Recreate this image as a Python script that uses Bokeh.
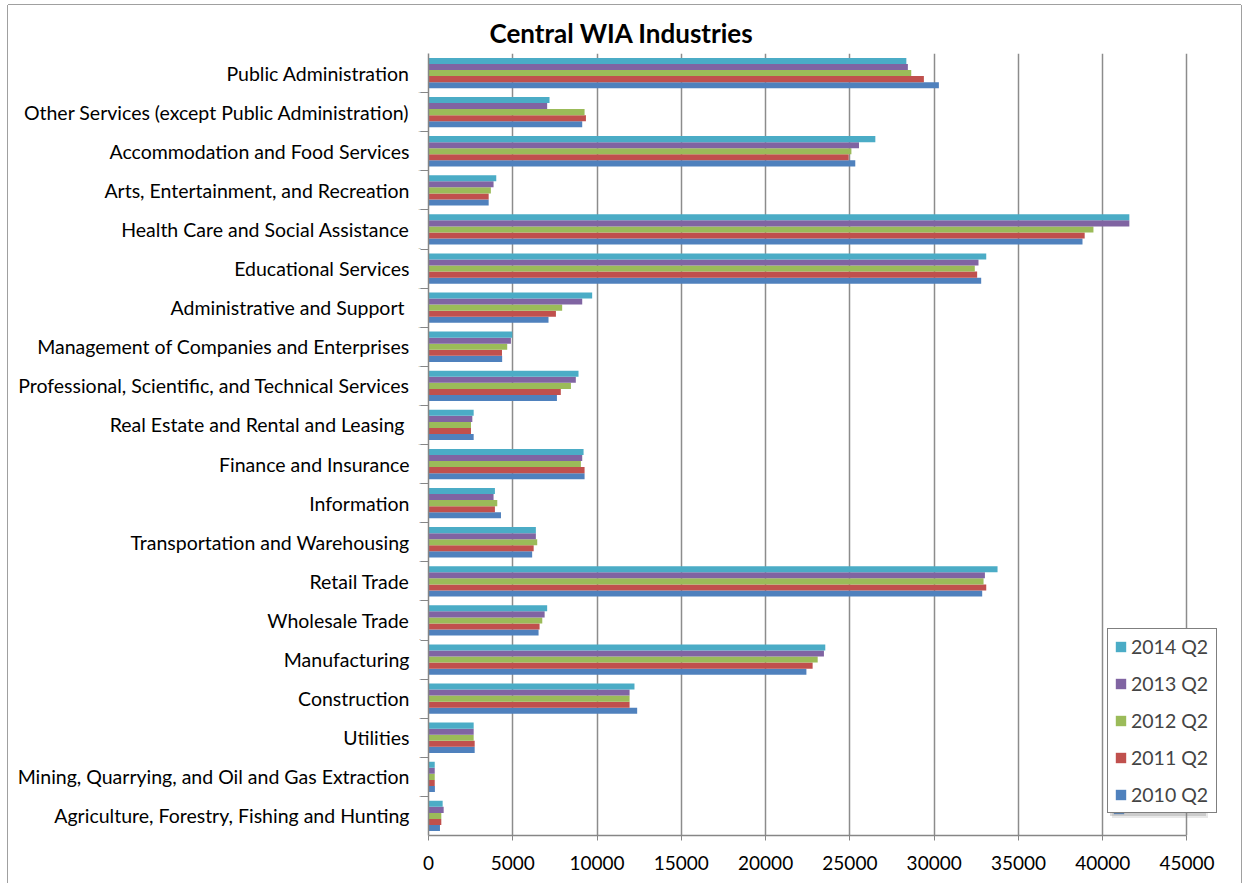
from bokeh.plotting import figure
from bokeh.models import (FactorRange, Range1d, FixedTicker, Legend, LegendItem,
                          ColumnDataSource, CategoricalAxis)
from bokeh.transform import dodge
from bokeh.embed import file_html
from bokeh.resources import INLINE

# categories listed top to bottom as in the chart
categories = [
    "Public Administration",
    "Other Services (except Public Administration)",
    "Accommodation and Food Services",
    "Arts, Entertainment, and Recreation",
    "Health Care and Social Assistance",
    "Educational Services",
    "Administrative and Support ",
    "Management of Companies and Enterprises",
    "Professional, Scientific, and Technical Services",
    "Real Estate and Rental and Leasing ",
    "Finance and Insurance",
    "Information",
    "Transportation and Warehousing",
    "Retail Trade",
    "Wholesale Trade",
    "Manufacturing",
    "Construction",
    "Utilities",
    "Mining, Quarrying, and Oil and Gas Extraction",
    "Agriculture, Forestry, Fishing and Hunting",
]

q2_2010 = [30280, 9120, 25320, 3570, 38800, 32790, 7120, 4370, 7620, 2680,
           9260, 4300, 6150, 32850, 6530, 22420, 12380, 2740, 380, 680]
q2_2011 = [29390, 9340, 24930, 3570, 38930, 32550, 7560, 4360, 7850, 2520,
           9260, 3940, 6240, 33090, 6590, 22790, 11930, 2740, 370, 760]
q2_2012 = [28640, 9260, 25090, 3700, 39450, 32410, 7930, 4670, 8450, 2520,
           9040, 4080, 6450, 32930, 6750, 23090, 11930, 2680, 370, 760]
q2_2013 = [28440, 7040, 25540, 3860, 41580, 32630, 9120, 4890, 8740, 2600,
           9120, 3860, 6370, 33010, 6890, 23460, 11930, 2680, 370, 900]
q2_2014 = [28350, 7180, 26510, 4020, 41580, 33090, 9710, 4970, 8900, 2680,
           9200, 3940, 6370, 33760, 7040, 23540, 12220, 2680, 370, 840]

series_names = ["2010 Q2", "2011 Q2", "2012 Q2", "2013 Q2", "2014 Q2"]
series_values = [q2_2010, q2_2011, q2_2012, q2_2013, q2_2014]
series_colors = ["#4F81BD", "#C0504D", "#9BBB59", "#8064A2", "#4BACC6"]
x_ticks = [0, 5000, 10000, 15000, 20000, 25000, 30000, 35000, 40000, 45000]
x_max = 45000

FONT = "Lato"
AXIS_GRAY = "#868686"

data = {"cat": categories}
for name, vals in zip(series_names, series_values):
    data[name] = vals
source = ColumnDataSource(data)

# frame extends a little past 45000 so the legend and its shadow are not clipped
p = figure(
    width=1233, height=878,
    y_range=FactorRange(factors=categories[::-1]),
    x_range=Range1d(0, 47047),
    y_axis_location=None,
    output_backend="svg", toolbar_location=None,
    min_border_left=420, min_border_right=20,
    min_border_top=48, min_border_bottom=48,
)

bar_h = 0.155
offsets = [-2 * bar_h, -bar_h, 0.0, bar_h, 2 * bar_h]
renderers = []
for name, color, off in zip(series_names, series_colors, offsets):
    r = p.hbar(y=dodge("cat", off, range=p.y_range), right=name, left=0,
               height=bar_h, source=source, fill_color=color, line_color=None)
    renderers.append(r)

# title
p.title.text = "Central WIA Industries"
p.title.text_font = FONT
p.title.text_font_style = "bold"
p.title.text_font_size = "26px"
p.title.text_color = "#000000"
p.title.align = "left"
p.title.offset = 61
p.title.standoff = 9

# x axis
p.xaxis.ticker = FixedTicker(ticks=x_ticks)
p.xaxis.bounds = (0, x_max)
p.xaxis.axis_line_color = AXIS_GRAY
p.xaxis.axis_line_width = 1.5
p.xaxis.major_tick_line_color = AXIS_GRAY
p.xaxis.major_tick_out = 5
p.xaxis.major_tick_in = 0
p.xaxis.minor_tick_line_color = None
p.xaxis.major_label_text_font = FONT
p.xaxis.major_label_text_font_size = "19px"
p.xaxis.major_label_text_color = "#000000"
p.xaxis.major_label_standoff = 15

# y axis: inner axis carries the category-boundary ticks, outer one the labels
n = len(categories)
boundary_factors = ["b%d" % i for i in range(n + 1)]
p.extra_y_ranges = {"bounds": FactorRange(factors=boundary_factors,
                                          range_padding=-0.5,
                                          range_padding_units="absolute")}
tick_axis = CategoricalAxis(
    y_range_name="bounds",
    major_label_overrides={f: "" for f in boundary_factors},
    major_label_text_font_size="1px",
    major_label_standoff=0,
    major_tick_out=8, major_tick_in=0,
    axis_line_color=AXIS_GRAY, axis_line_width=1.5,
    major_tick_line_color=AXIS_GRAY,
)
p.add_layout(tick_axis, "left")

cat_axis = CategoricalAxis(
    axis_line_color=None,
    major_tick_line_color=None,
    major_tick_out=0, major_tick_in=0,
    major_label_text_font=FONT,
    major_label_text_font_size="19.5px",
    major_label_text_color="#000000",
    major_label_standoff=6,
)
p.add_layout(cat_axis, "left")

p.xgrid.grid_line_color = "#8c8c8c"
p.xgrid.grid_line_width = 1.5
p.ygrid.grid_line_color = None
p.outline_line_color = None


def style_legend(lg):
    lg.label_text_font = FONT
    lg.label_text_font_size = "19.5px"
    lg.glyph_width = 13
    lg.glyph_height = 13
    lg.label_height = 20
    lg.label_width = 79
    lg.spacing = 14
    lg.padding = 6
    lg.margin = 0
    lg.label_standoff = 4


# soft drop shadow behind the legend (two faint layers)
for loc, alpha in [((684, 17), 0.18), ((682, 19), 0.28)]:
    sh = Legend(items=[LegendItem(label=" ", renderers=[r]) for r in renderers[::-1]],
                location=loc)
    style_legend(sh)
    sh.border_line_color = None
    sh.background_fill_color = "#808080"
    sh.background_fill_alpha = alpha
    p.add_layout(sh, "center")

# legend (2014 at top)
items = [LegendItem(label=nm, renderers=[r]) for nm, r in zip(series_names[::-1], renderers[::-1])]
legend = Legend(items=items, location=(679, 22))
style_legend(legend)
legend.border_line_color = "#000000"
legend.border_line_width = 1
legend.background_fill_color = "#ffffff"
legend.background_fill_alpha = 1
p.add_layout(legend, "center")

p.styles = {
    "margin-left": "8px",
    "margin-top": "5px",
    "box-shadow": "-1px 0 0 #a0a0a0, 1px 0 0 #a0a0a0, 0 -1px 0 #a0a0a0",
}

open("out.html", "w").write(file_html(p, INLINE))
